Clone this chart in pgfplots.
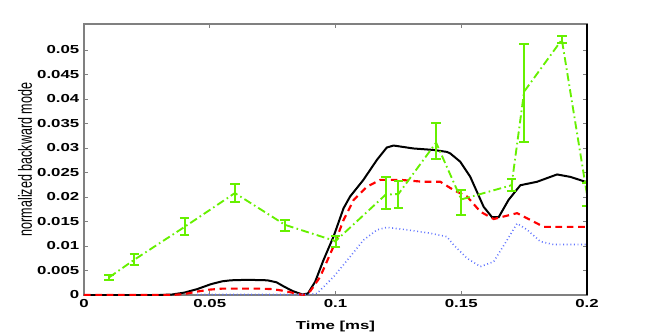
\documentclass[border=0pt]{standalone}
\usepackage{pgfplots}
\usepackage{pgfplotstable}
\pgfplotsset{compat=1.18}
\usepackage{fontspec}
\setmainfont{Liberation Sans}
\newfontfamily\tickfont{Liberation Sans}[FakeStretch=1.45]
\newfontfamily\ylfont{Liberation Sans}[FakeStretch=0.66]

\definecolor{lime}{RGB}{102,240,0}
\definecolor{lblue}{RGB}{95,115,255}

% green measurements with (asymmetric) error bars
\pgfplotstableread{
x      y       ep      em
0.010  0.0036  0.0005  0.0005
0.020  0.0072  0.0011  0.0011
0.040  0.0139  0.0018  0.0017
0.060  0.0208  0.0019  0.0019
0.080  0.0143  0.0011  0.0012
0.100  0.0110  0.0010  0.0013
0.120  0.0205  0.0036  0.0029
0.125  0.0206  0.0027  0.0028
0.140  0.0311  0.0041  0.0033
0.150  0.0195  0.0019  0.0032
0.170  0.0224  0.0012  0.0012
0.175  0.0415  0.0097  0.0102
0.190  0.0521  0.0008  0.0007
0.200  0.0205  0.0023  0.0023
}\greendata

\pgfplotstableread{
x       y
0.000   0.0000
0.030   0.0000
0.035   0.0001
0.040   0.0005
0.045   0.0012
0.0504  0.0022
0.055   0.0028
0.0584  0.0030
0.065   0.0031
0.0729  0.0030
0.0765  0.0026
0.0796  0.0017
0.083   0.0008
0.0869  0.0001
0.089   0.0003
0.0919  0.0027
0.0952  0.0071
0.0992  0.0119
0.1032  0.0177
0.1058  0.0201
0.1111  0.0235
0.1165  0.0276
0.1204  0.0301
0.1231  0.0305
0.131   0.0299
0.139   0.0296
0.1443  0.0292
0.1456  0.0289
0.1496  0.0272
0.1536  0.0241
0.1589  0.0180
0.1622  0.0159
0.1649  0.0159
0.1688  0.0194
0.1735  0.0224
0.1801  0.0231
0.1881  0.0246
0.1934  0.0241
0.2000  0.0230
}\blackdata

\pgfplotstableread{
x       y
0.000   0.0000
0.035   0.0000
0.040   0.0002
0.045   0.0007
0.050   0.0011
0.055   0.0013
0.070   0.0013
0.075   0.0012
0.080   0.0008
0.085   0.0002
0.0873  0.0000
0.090   0.0008
0.0939  0.0037
0.0992  0.0099
0.1032  0.0153
0.1072  0.0194
0.1125  0.0221
0.1178  0.0235
0.1257  0.0235
0.135   0.0231
0.1417  0.0231
0.147   0.0214
0.1523  0.0201
0.1576  0.0170
0.1629  0.0155
0.1722  0.0167
0.1775  0.0153
0.1828  0.0139
0.2000  0.0139
}\reddata

\pgfplotstableread{
x       y
0.045   0.0001
0.088   0.0001
0.0926  0.0003
0.0992  0.0037
0.1058  0.0078
0.1111  0.0112
0.1165  0.0133
0.1204  0.0138
0.1284  0.0133
0.1377  0.0126
0.1443  0.0119
0.147   0.0102
0.1523  0.0075
0.1576  0.0058
0.1629  0.0068
0.1682  0.0112
0.1722  0.0146
0.1762  0.0133
0.1815  0.0109
0.1867  0.0103
0.2000  0.0103
}\bluedata

\begin{document}
\begin{tikzpicture}
\useasboundingbox (-63pt,-27.75pt) rectangle (423pt,221.25pt);
\begin{axis}[
  scale only axis, width=377.25pt, height=203.25pt,
  xmin=0, xmax=0.2, ymin=0, ymax=0.0553,
  scaled x ticks=false, scaled y ticks=false,
  xtick={0,0.05,0.1,0.15,0.2},
  xticklabels={0,0.05,0.1,0.15,0.2},
  ytick={0,0.005,0.01,0.015,0.02,0.025,0.03,0.035,0.04,0.045,0.05},
  yticklabels={0,0.005,0.01,0.015,0.02,0.025,0.03,0.035,0.04,0.045,0.05},
  tick align=inside, major tick length=3pt,
  tick style={gray, line width=0.6pt},
  axis line style={gray, line width=0.8pt},
  tick label style={font=\tickfont\bfseries\fontsize{8.7}{10}\selectfont},
  xlabel={Time [ms]},
  ylabel={normalized backward mode},
  xlabel style={font=\tickfont\bfseries\fontsize{8.7}{10}\selectfont,
    at={(axis description cs:0.5,-0.117)}, anchor=center},
  ylabel style={font=\ylfont\fontsize{14.3}{16}\selectfont,
    at={(axis description cs:-0.117,0.5)}, anchor=center},
]
\addplot[black, line width=1.5pt] table[x=x, y=y] {\blackdata};
\addplot[red, line width=1.6pt, dash pattern=on 5pt off 3.5pt] table[x=x, y=y] {\reddata};
\addplot[lblue, line width=1.2pt, dash pattern=on 0.7pt off 2pt] table[x=x, y=y] {\bluedata};
\addplot[lime, line width=1.4pt, dash pattern=on 6pt off 2.5pt on 1.2pt off 2.5pt,
  error bars/.cd, y dir=both, y explicit, error mark=|,
  error bar style={solid, line width=1.5pt},
  error mark options={solid, line width=1.5pt, mark size=3.6pt}]
  table[x=x, y=y, y error plus=ep, y error minus=em] {\greendata};
\end{axis}
\draw[black, line width=1pt] (current axis.south east) -- (current axis.north east);
\end{tikzpicture}
\end{document}
